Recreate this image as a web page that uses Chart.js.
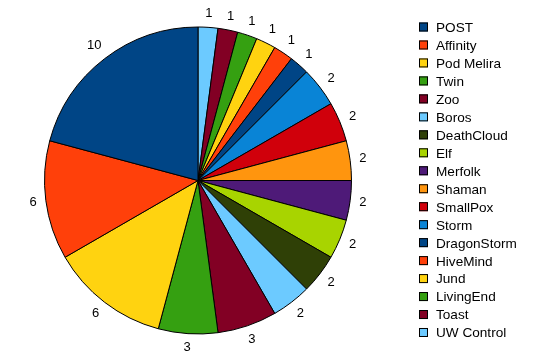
<!DOCTYPE html>
<html lang="en">
<head>
    <meta charset="UTF-8">
    <title>Decks</title>
    <script src="https://cdn.jsdelivr.net/npm/chart.js"></script>
    <style>
        body { margin: 0; background: #fff; }
        #chart { display: block; }
    </style>
</head>
<body>
    <canvas id="chart" width="548" height="364"></canvas>

    <script>
        // deck names, in legend order
        const decks = ['POST', 'Affinity', 'Pod Melira', 'Twin', 'Zoo', 'Boros', 'DeathCloud', 'Elf',
            'Merfolk', 'Shaman', 'SmallPox', 'Storm', 'DragonStorm', 'HiveMind', 'Jund', 'LivingEnd',
            'Toast', 'UW Control'];
        const counts = [10, 6, 6, 3, 3, 2, 2, 2, 2, 2, 2, 2, 1, 1, 1, 1, 1, 1];
        const colors = ['#004586', '#ff400a', '#ffd310', '#35a011', '#820024', '#6ccaff', '#2f4006',
            '#a8d400', '#4e1a78', '#ff950e', '#d0000b', '#0984d6', '#004586', '#ff400a', '#ffd310',
            '#35a011', '#820024', '#6ccaff'];

        const FONT = '13px "Liberation Sans", Arial, sans-serif';
        const LEGEND_FONT = '13.6px "Liberation Sans", Arial, sans-serif';

        // slices run counter-clockwise in the original, so feed them reversed
        const rev = arr => arr.slice().reverse();

        // value labels just outside each slice
        const outsideLabels = {
            id: 'outsideLabels',
            afterDatasetsDraw(chart) {
                const ctx = chart.ctx;
                const meta = chart.getDatasetMeta(0);
                const data = chart.data.datasets[0].data;
                ctx.save();
                ctx.font = FONT;
                ctx.fillStyle = '#000';
                ctx.textAlign = 'center';
                ctx.textBaseline = 'middle';
                meta.data.forEach((arc, i) => {
                    const mid = (arc.startAngle + arc.endAngle) / 2;
                    const txt = String(data[i]);
                    const w = ctx.measureText(txt).width;
                    const cos = Math.cos(mid), sin = Math.sin(mid);
                    const ext = Math.abs(cos) * w / 2 + Math.abs(sin) * 5;
                    const d = arc.outerRadius + 8.5 + ext;
                    ctx.fillText(txt, arc.x + cos * d, arc.y + sin * d);
                });
                ctx.restore();
            }
        };

        // legend on the right, drawn from the same arrays
        const sideLegend = {
            id: 'sideLegend',
            afterDraw(chart) {
                const ctx = chart.ctx;
                ctx.save();
                ctx.font = LEGEND_FONT;
                ctx.textBaseline = 'alphabetic';
                decks.forEach((name, i) => {
                    const y = 22.5 + i * 17.97;
                    ctx.fillStyle = colors[i];
                    ctx.fillRect(419, y, 9, 9);
                    ctx.strokeStyle = '#000';
                    ctx.lineWidth = 1;
                    ctx.strokeRect(419.5, y + 0.5, 8, 8);
                    ctx.fillStyle = '#000';
                    ctx.fillText(name, 436, y + 9.4);
                });
                ctx.restore();
            }
        };

        new Chart(document.getElementById('chart'), {
            type: 'pie',
            data: {
                labels: rev(decks),
                datasets: [{
                    data: rev(counts),
                    backgroundColor: rev(colors),
                    borderColor: '#000',
                    borderWidth: 1
                }]
            },
            options: {
                responsive: false,
                animation: false,
                layout: { padding: { left: 44, top: 26, right: 196, bottom: 29 } },
                plugins: {
                    legend: { display: false },
                    tooltip: { enabled: false }
                }
            },
            plugins: [outsideLabels, sideLegend]
        });
    </script>
</body>
</html>
